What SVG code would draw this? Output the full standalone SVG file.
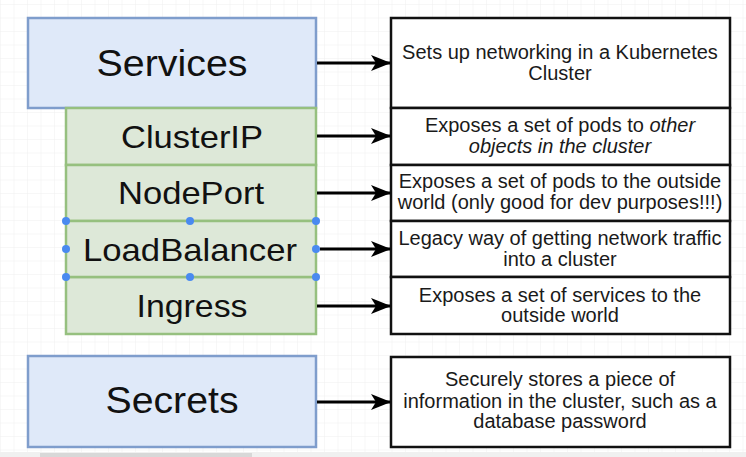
<svg xmlns="http://www.w3.org/2000/svg" width="746" height="457" viewBox="0 0 746 457">
  <defs>
    <pattern id="grid" x="1" y="5" width="13.5" height="13.5" patternUnits="userSpaceOnUse">
      <path d="M13.5 0V13.5M0 13.5H13.5" fill="none" stroke="#efefef" stroke-width="1"/>
    </pattern>
    <marker id="arr" viewBox="0 0 20 16" refX="19" refY="8" markerWidth="20" markerHeight="16" markerUnits="userSpaceOnUse" orient="auto">
      <path d="M0 0L20 8L0 16L5 8Z" fill="#000"/>
    </marker>
    <style>
      .blue{fill:#dfe9f9;stroke:#7f9dcc;stroke-width:2.5}
      .green{fill:#dde8d8;stroke:#96c07f;stroke-width:2.5}
      .desc{fill:#fff;stroke:#111;stroke-width:2.5}
      .big{font-family:"Liberation Sans",Arial,sans-serif;font-size:36px;fill:#111;text-anchor:middle}
      .mid{font-family:"Liberation Sans",Arial,sans-serif;font-size:32px;fill:#111;text-anchor:middle}
      .txt{font-family:"Liberation Sans",Arial,sans-serif;font-size:20px;fill:#1a1a1a;text-anchor:middle}
      .conn{stroke:#000;stroke-width:3;fill:none;marker-end:url(#arr)}
      .handle{fill:#4a8af0}
    </style>
  </defs>
  <rect width="746" height="457" fill="#fff"/>
  <rect width="746" height="452" fill="url(#grid)"/>
  <rect x="0" y="452" width="746" height="5" fill="#f0f0f0"/>
  <rect x="40" y="453" width="212" height="4" fill="#d8d8d8"/>

  <g id="services">
    <rect class="blue" x="28" y="18" width="288" height="90"/>
    <text class="big" x="172" y="76" textLength="151" lengthAdjust="spacingAndGlyphs">Services</text>
  </g>
  <g id="clusterip">
    <rect class="green" x="66" y="108" width="250" height="57"/>
    <text class="mid" x="192" y="148" textLength="142" lengthAdjust="spacingAndGlyphs">ClusterIP</text>
  </g>
  <g id="nodeport">
    <rect class="green" x="66" y="165" width="250" height="56"/>
    <text class="mid" x="191" y="204" textLength="146" lengthAdjust="spacingAndGlyphs">NodePort</text>
  </g>
  <g id="ingress">
    <rect class="green" x="66" y="277" width="250" height="57"/>
    <text class="mid" x="192" y="317" textLength="111" lengthAdjust="spacingAndGlyphs">Ingress</text>
  </g>
  <g id="loadbalancer">
    <rect class="green" x="66" y="221" width="250" height="56"/>
    <text class="mid" x="190" y="261" textLength="214" lengthAdjust="spacingAndGlyphs">LoadBalancer</text>
    <circle class="handle" cx="66" cy="221" r="4"/>
    <circle class="handle" cx="190" cy="221" r="4"/>
    <circle class="handle" cx="316" cy="221" r="4"/>
    <circle class="handle" cx="66" cy="249" r="4"/>
    <circle class="handle" cx="316" cy="249" r="4"/>
    <circle class="handle" cx="66" cy="277" r="4"/>
    <circle class="handle" cx="190" cy="277" r="4"/>
    <circle class="handle" cx="316" cy="277" r="4"/>
  </g>
  <g id="secrets">
    <rect class="blue" x="28" y="356" width="288" height="91"/>
    <text class="big" x="172" y="413" textLength="133" lengthAdjust="spacingAndGlyphs">Secrets</text>
  </g>

  <g id="desc-services">
    <rect class="desc" x="391" y="18" width="339" height="90"/>
    <text class="txt" x="560" y="59">Sets up networking in a Kubernetes</text>
    <text class="txt" x="560" y="80">Cluster</text>
  </g>
  <g id="desc-clusterip">
    <rect class="desc" x="391" y="108" width="339" height="57"/>
    <text class="txt" x="560" y="132">Exposes a set of pods to <tspan font-style="italic">other</tspan></text>
    <text class="txt" x="560" y="153" font-style="italic">objects in the cluster</text>
  </g>
  <g id="desc-nodeport">
    <rect class="desc" x="391" y="165" width="339" height="56"/>
    <text class="txt" x="560" y="188">Exposes a set of pods to the outside</text>
    <text class="txt" x="560" y="209">world (only good for dev purposes!!!)</text>
  </g>
  <g id="desc-loadbalancer">
    <rect class="desc" x="391" y="221" width="339" height="56"/>
    <text class="txt" x="560" y="245">Legacy way of getting network traffic</text>
    <text class="txt" x="560" y="266">into a cluster</text>
  </g>
  <g id="desc-ingress">
    <rect class="desc" x="391" y="277" width="339" height="57"/>
    <text class="txt" x="560" y="302">Exposes a set of services to the</text>
    <text class="txt" x="560" y="322">outside world</text>
  </g>
  <g id="desc-secrets">
    <rect class="desc" x="391" y="357" width="339" height="90"/>
    <text class="txt" x="560" y="386">Securely stores a piece of</text>
    <text class="txt" x="560" y="408">information in the cluster, such as a</text>
    <text class="txt" x="560" y="428">database password</text>
  </g>

  <g id="connectors">
    <line class="conn" x1="317" y1="63" x2="390" y2="63"/>
    <line class="conn" x1="317" y1="136" x2="390" y2="136"/>
    <line class="conn" x1="317" y1="193" x2="390" y2="193"/>
    <line class="conn" x1="320" y1="249" x2="390" y2="249"/>
    <line class="conn" x1="317" y1="306" x2="390" y2="306"/>
    <line class="conn" x1="317" y1="402" x2="390" y2="402"/>
  </g>
</svg>
